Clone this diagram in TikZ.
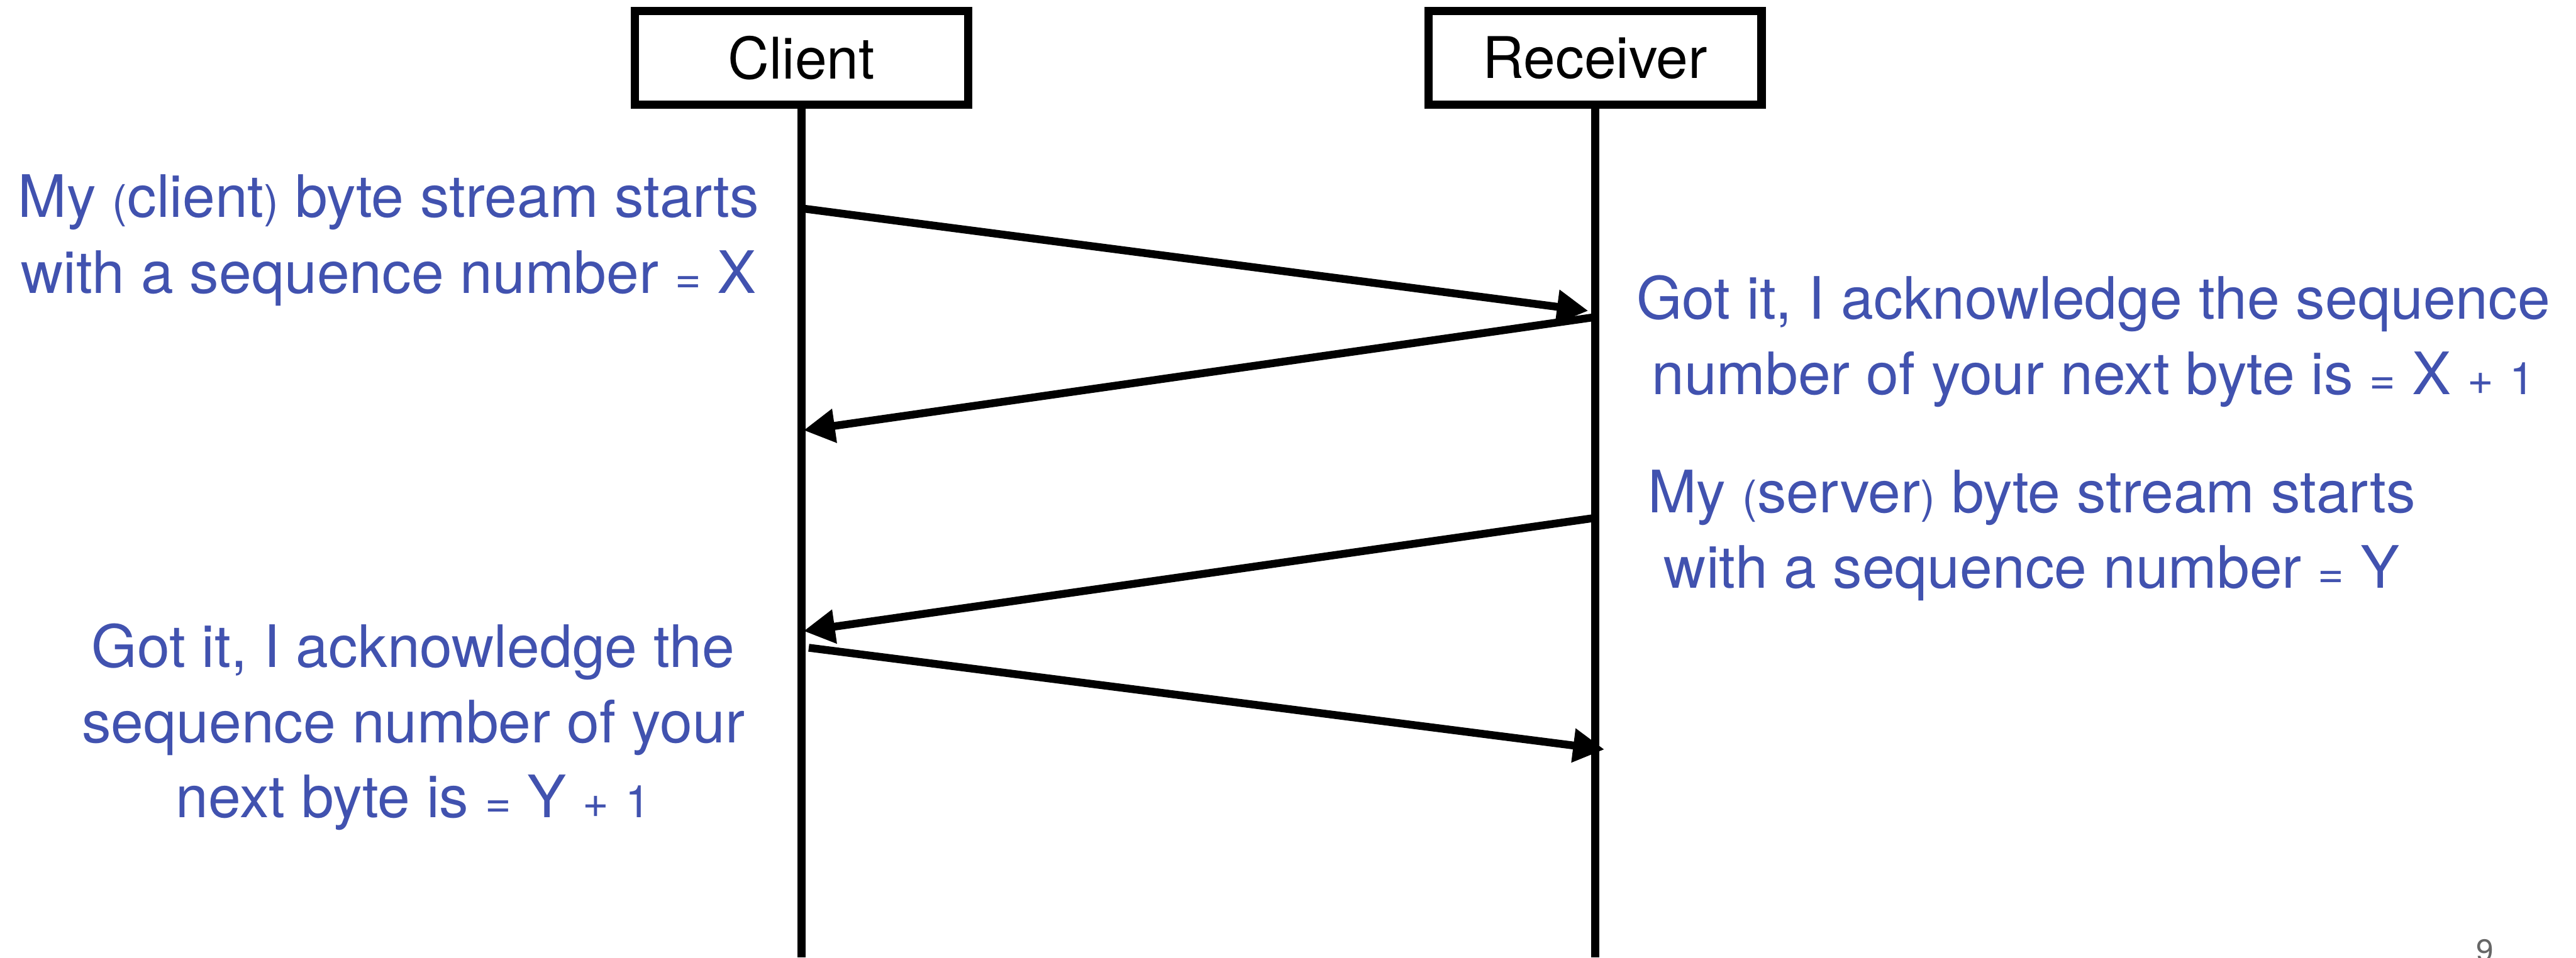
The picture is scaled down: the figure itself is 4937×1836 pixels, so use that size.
\documentclass[tikz,border=0pt]{standalone}
\usepackage{fontspec}
\setmainfont{TeX Gyre Heros}
\usetikzlibrary{arrows.meta}
\definecolor{msgblue}{RGB}{65,82,175}
% parentheses, equals and "+ 1" are set in a smaller size
\newcommand\smallsym[1]{{\fontsize{24.5pt}{28pt}\selectfont #1}}

\begin{document}
\begin{tikzpicture}[x=0.01cm, y=-0.01cm,
  actor/.style={draw, line width=0.16cm, minimum width=6.38cm, minimum height=1.80cm,
    inner sep=0pt, font=\fontsize{31.3pt}{36pt}\selectfont},
  lifeline/.style={line width=0.15cm},
  msg/.style={line width=0.15cm, -{Triangle[length=0.6cm,width=0.62cm]}},
  note/.style={text=msgblue, anchor=base, inner sep=0pt,
    font=\fontsize{31.9pt}{40pt}\selectfont},
  pagenum/.style={text=black!60, anchor=base, inner sep=0pt,
    font=\fontsize{17pt}{20pt}\selectfont}]
\useasboundingbox (0,0) rectangle (4937,1836);

% participants and their lifelines
\node[actor] (client) at (1536,111) {Client};
\node[actor] (recv) at (3057,111) {Receiver};
\coordinate (cbot) at (1536,1836);
\coordinate (rbot) at (3057,1836);
\draw[lifeline] (client.south) -- (cbot);
\draw[lifeline] (recv.south) -- (rbot);

% message end points on the lifelines
\coordinate (a1s) at (1540,400);  \coordinate (a1e) at (3044,596);
\coordinate (a2s) at (3057,608);  \coordinate (a2e) at (1540,825);
\coordinate (a3s) at (3057,993);  \coordinate (a3e) at (1540,1210);
\coordinate (a4s) at (1550,1242); \coordinate (a4e) at (3075,1437);

\draw[msg] (a1s) -- (a1e);
\draw[msg] (a2s) -- (a2e);
\draw[msg] (a3s) -- (a3e);
\draw[msg] (a4s) -- (a4e);

% annotations
\node[note] (t1a) at (745,417) {My \smallsym{(}client\smallsym{)} byte stream starts};
\node[note] (t1b) at (745,562) {with a sequence number \smallsym{=} X};
\node[note] (t2a) at (4012,612) {Got it, I acknowledge the sequence};
\node[note] (t2b) at (4012,756) {number of your next byte is \smallsym{=} X \smallsym{+} \smallsym{1}};
\node[note] (t3a) at (3894,983) {My \smallsym{(}server\smallsym{)} byte stream starts};
\node[note] (t3b) at (3894,1128) {with a sequence number \smallsym{=} Y};
\node[note] (t4a) at (792,1279) {Got it, I acknowledge the};
\node[note] (t4b) at (792,1424) {sequence number of your};
\node[note] (t4c) at (792,1568) {next byte is \smallsym{=} Y \smallsym{+} \smallsym{1}};

\node[pagenum] (pg) at (4762,1843) {9};
\end{tikzpicture}
\end{document}
